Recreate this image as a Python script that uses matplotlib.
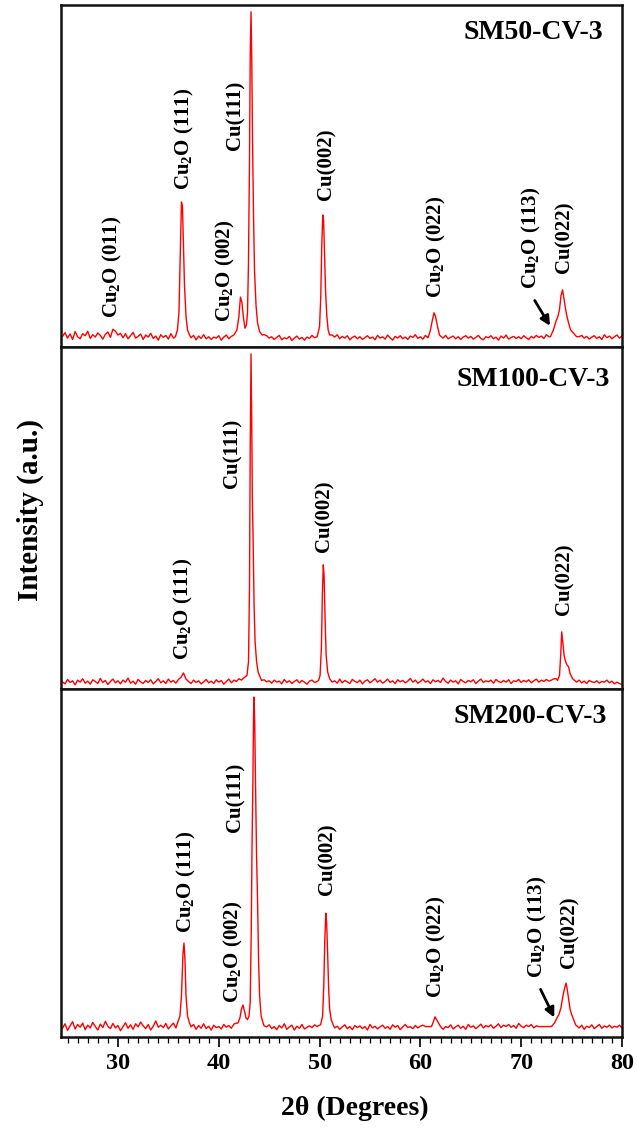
import numpy as np
import matplotlib
matplotlib.use('Agg')
import matplotlib.pyplot as plt
from matplotlib.ticker import MultipleLocator

plt.rcParams['font.family'] = ['Liberation Serif', 'DejaVu Serif']
plt.rcParams['font.weight'] = 'bold'
plt.rcParams['mathtext.default'] = 'regular'

# ------------------------------------------------------------
# Data (intensity in % of panel height)
# ------------------------------------------------------------
SCAN_START = 24.5   # first baseline reading (deg)
SCAN_STEP = 0.25    # spacing of baseline readings (deg)

SAMPLES = ['SM50-CV-3', 'SM100-CV-3', 'SM200-CV-3']

BASE_SM50 = [
    3.1, 4.2, 2.6, 3.8, 2.2, 4.5, 3.0, 2.4, 3.9, 3.3, 4.6, 2.5, 3.6, 2.9, 4.1, 3.4, 2.3, 3.7, 4.4, 2.8,
    5.2, 4.6, 3.5, 4.0, 2.7, 3.9, 2.4, 3.3, 4.3, 2.6, 3.1, 3.8, 2.2, 3.5, 2.9, 4.0, 2.5, 3.2, 2.0, 3.6,
    2.8, 3.4, 2.3, 3.9, 2.6, 3.1, 3.0, 3.0, 3.0, 3.0, 3.0, 2.7, 3.4, 2.1, 3.2, 2.5, 3.6, 2.4, 3.0, 2.2,
    2.9, 2.6, 3.3, 2.0, 2.9, 3.5, 2.4, 3.1, 2.7, 3.8, 3.2, 4.0, 3.5, 4.2, 5.0, 6.0, 5.0, 6.0, 5.0, 4.0,
    3.6, 3.3, 2.6, 3.0, 2.2, 2.8, 3.4, 2.1, 2.7, 2.4, 3.1, 1.9, 2.6, 3.2, 2.3, 2.8, 2.0, 2.9, 2.5, 3.4,
    2.7, 3.0, 3.6, 4.0, 4.5, 5.0, 4.0, 3.5, 2.9, 3.6, 2.4, 3.1, 2.6, 3.3, 2.1, 2.8, 3.2, 2.4, 3.0, 2.2,
    2.7, 3.3, 2.5, 2.9, 2.1, 3.4, 2.6, 3.0, 2.3, 3.5, 2.7, 2.0, 3.1, 2.6, 3.3, 2.4, 2.9, 2.2, 3.2, 2.8,
    3.6, 2.5, 3.0, 2.3, 3.4, 2.7, 3.1, 3.6, 4.0, 5.0, 3.2, 2.6, 3.4, 2.4, 2.8, 3.2, 2.4, 3.0, 2.2, 2.9,
    3.3, 2.6, 3.1, 2.3, 2.8, 3.4, 2.5, 2.1, 3.0, 2.7, 3.3, 2.4, 2.9, 2.0, 3.2, 2.6, 3.5, 2.3, 2.8, 3.1,
    2.5, 3.0, 2.4, 3.3, 2.7, 2.2, 3.1, 2.6, 3.4, 2.8, 3.2, 2.5, 3.6, 3.0, 3.5, 4.0, 5.0, 6.0, 8.0, 10.0,
    9.0, 7.0, 5.0, 4.0, 3.5, 3.0, 3.4, 2.6, 3.1, 2.3, 2.9, 3.3, 2.5, 3.0, 2.2, 3.6, 2.7, 3.2, 2.4, 3.0,
    3.5, 2.6, 3.2,
]

BASE_SM100 = [
    2.1, 1.5, 2.8, 1.9, 2.4, 1.2, 2.6, 2.0, 3.0, 1.7, 2.3, 1.4, 2.7, 2.2, 1.6, 3.1, 1.9, 2.5, 1.3, 2.2,
    2.9, 1.8, 2.4, 1.5, 2.6, 2.0, 3.2, 1.7, 2.3, 1.4, 2.8, 2.1, 1.6, 2.5, 1.9, 2.7, 1.5, 2.2, 3.0, 1.8,
    2.4, 1.6, 2.9, 2.0, 2.5, 1.7, 2.8, 3.4, 4.7, 2.9, 2.2, 1.6, 2.6, 1.9, 2.4, 1.5, 2.1, 2.8, 1.8, 2.3,
    1.6, 2.7, 2.0, 2.5, 1.4, 2.2, 2.9, 1.8, 2.6, 2.2, 3.0, 2.6, 3.3, 3.1, 3.6, 3.3, 3.8, 3.0, 3.2, 2.5,
    2.7, 2.1, 2.4, 1.7, 2.6, 2.0, 2.3, 1.5, 2.8, 1.9, 2.4, 1.6, 2.2, 2.7, 1.8, 2.5, 2.0, 1.4, 2.3, 2.6,
    1.9, 2.2, 2.8, 3.0, 3.3, 3.0, 2.6, 2.0, 2.4, 1.7, 2.9, 1.8, 2.5, 2.1, 1.6, 2.8, 2.2, 1.9, 2.6, 1.5,
    2.3, 2.7, 1.8, 2.4, 3.0, 2.0, 2.6, 1.7, 2.2, 2.9, 1.9, 2.4, 1.6, 2.7, 2.1, 2.5, 1.8, 2.3, 3.1, 2.0,
    2.6, 1.7, 2.2, 2.9, 2.0, 2.4, 1.6, 2.7, 2.1, 2.5, 1.9, 3.2, 2.2, 1.7, 2.6, 2.0, 2.4, 1.5, 2.8, 2.2,
    1.8, 2.5, 2.1, 2.7, 1.6, 2.3, 2.9, 1.9, 2.4, 2.1, 2.6, 1.7, 2.8, 2.2, 1.9, 2.5, 2.0, 2.7, 1.6, 2.4,
    2.2, 2.8, 1.9, 2.5, 2.1, 2.7, 1.8, 2.4, 2.9, 2.0, 2.6, 2.2, 2.8, 2.3, 2.6, 3.0, 3.0, 3.0, 3.0, 3.0,
    3.0, 3.0, 3.0, 2.4, 2.0, 2.6, 1.8, 2.3, 1.6, 2.5, 2.1, 1.9, 2.4, 1.7, 2.2, 2.0, 2.6, 1.8, 2.3, 1.5,
    2.0, 1.6, 1.3,
]

BASE_SM200 = [
    2.5, 3.8, 1.9, 3.2, 4.4, 2.3, 3.6, 2.8, 4.0, 2.1, 3.4, 2.6, 4.2, 3.0, 2.0, 3.7, 2.7, 4.5, 3.1, 2.4,
    3.9, 2.6, 3.3, 1.8, 3.0, 4.1, 2.5, 3.5, 2.2, 3.8, 2.9, 4.3, 3.2, 2.4, 3.6, 2.0, 3.1, 4.6, 2.8, 3.4,
    2.7, 3.9, 2.3, 3.2, 4.0, 2.6, 3.0, 3.0, 3.0, 3.0, 3.0, 2.9, 3.6, 2.2, 3.3, 2.5, 3.8, 2.4, 3.1, 2.0,
    3.4, 2.7, 3.0, 2.3, 3.6, 2.8, 3.3, 2.5, 3.7, 4.0, 3.0, 3.0, 3.0, 3.0, 3.0, 3.0, 3.0, 3.0, 3.0, 3.0,
    3.2, 2.9, 3.5, 2.4, 3.0, 2.1, 3.3, 2.6, 3.8, 2.2, 2.9, 3.4, 2.0, 3.1, 2.5, 3.6, 2.3, 2.8, 3.2, 2.7,
    3.5, 3.0, 3.4, 3.0, 3.0, 3.0, 3.0, 3.0, 2.6, 3.1, 2.2, 2.9, 3.5, 2.4, 3.0, 2.1, 3.3, 2.7, 3.2, 2.4,
    3.0, 2.0, 3.6, 2.6, 3.1, 2.3, 2.9, 3.4, 2.5, 3.0, 2.2, 3.5, 2.8, 3.3, 2.1, 2.9, 3.6, 2.7, 3.0, 2.4,
    3.3, 2.6, 3.1, 3.4, 3.0, 3.0, 3.0, 3.0, 3.0, 2.5, 3.2, 2.2, 3.0, 2.7, 3.5, 2.3, 2.9, 3.4, 2.5, 3.1,
    2.2, 3.6, 2.8, 3.2, 2.4, 3.0, 3.7, 2.6, 3.3, 2.9, 3.5, 2.5, 3.1, 3.8, 2.7, 3.4, 3.0, 3.6, 2.8, 3.3,
    2.5, 3.9, 3.1, 2.7, 3.4, 3.0, 3.6, 2.6, 3.2, 3.0, 3.0, 3.0, 3.0, 3.0, 3.0, 3.0, 3.0, 3.0, 3.0, 3.0,
    3.0, 3.0, 3.0, 3.0, 3.0, 2.6, 3.4, 2.2, 3.1, 2.7, 3.5, 2.4, 3.0, 3.6, 2.5, 3.2, 2.8, 3.4, 2.6, 3.1,
    2.8, 3.4, 2.6,
]

# reflections: (2theta points, intensity points)
PEAKS_SM50 = [
    ([35.7, 35.9, 36.05, 36.2, 36.3, 36.4, 36.5, 36.6, 36.75, 36.9, 37.1],
     [3.0, 5.0, 10, 30, 42.4, 41, 30, 18, 9, 5, 3.5]),
    ([41.5, 41.8, 42.0, 42.15, 42.3, 42.45, 42.6, 42.75, 42.85, 42.95, 43.05,
      43.12, 43.2, 43.27, 43.35, 43.45, 43.55, 43.7, 43.85, 44.05, 44.3],
     [3.5, 5, 9, 14.6, 13, 8.5, 5.5, 6.5, 10, 25, 55, 85, 98, 85, 60, 38, 22, 12, 7, 4.5, 3.5]),
    ([49.8, 50.0, 50.12, 50.22, 50.32, 50.4, 50.5, 50.6, 50.72, 50.85, 51.0],
     [3.5, 6, 15, 30, 38.6, 37, 27, 16, 9, 5, 3.5]),
    ([60.8, 61.0, 61.2, 61.35, 61.5, 61.7, 61.9],
     [3.0, 5, 8, 10, 9, 6, 3.5]),
    ([72.9, 73.2, 73.45, 73.65, 73.8, 73.95, 74.1, 74.2, 74.35, 74.5, 74.7, 74.9, 75.2, 75.5],
     [3, 5, 7.5, 9, 11, 15, 16.7, 15, 12, 9.5, 7, 5, 4, 3]),
]

PEAKS_SM100 = [
    ([42.6, 42.8, 42.95, 43.05, 43.12, 43.2, 43.28, 43.33, 43.4, 43.5, 43.6, 43.75, 43.9, 44.1],
     [3.5, 4, 8, 30, 70, 98, 75, 56, 45, 25, 14, 8, 5, 3.5]),
    ([49.9, 50.05, 50.18, 50.28, 50.37, 50.45, 50.55, 50.65, 50.8, 51.0],
     [2.5, 4, 12, 28, 36.3, 33, 20, 10, 5, 3]),
    ([73.6, 73.8, 73.92, 74.02, 74.12, 74.25, 74.4, 74.55, 74.7, 74.85, 75.1, 75.3],
     [2.5, 4, 10, 16.7, 14, 10, 8, 7, 6.5, 4.5, 3, 2.5]),
]

PEAKS_SM200 = [
    ([35.9, 36.15, 36.3, 36.45, 36.55, 36.65, 36.75, 36.9, 37.1],
     [4, 6, 12, 24, 27, 22, 12, 6, 4]),
    ([41.9, 42.1, 42.25, 42.4, 42.55, 42.7, 42.85, 43.0, 43.12, 43.22, 43.3,
      43.38, 43.45, 43.5, 43.57, 43.65, 43.75, 43.85, 43.95, 44.05, 44.2, 44.4],
     [4, 5.5, 8, 9.2, 7.5, 5.5, 5, 6, 10, 30, 55, 72, 92, 97.7, 90, 72, 52, 39, 22, 12, 6, 4]),
    ([50.1, 50.3, 50.42, 50.52, 50.62, 50.7, 50.8, 50.9, 51.0, 51.15, 51.35],
     [3.5, 6, 15, 28, 35.6, 33, 24, 14, 8, 5, 3.5]),
    ([61.1, 61.3, 61.45, 61.6, 61.8, 62.0],
     [3, 4.5, 5.8, 5, 4, 3]),
    ([73.0, 73.3, 73.55, 73.75, 73.95, 74.15, 74.3, 74.45, 74.55, 74.7, 74.85, 75.0, 75.2, 75.4, 75.6],
     [3, 4, 5.5, 6.5, 8.5, 12, 14, 15.5, 14, 11, 8, 6.5, 5, 3.5, 3]),
]

CU2O = 'Cu$_2$O'
# peak labels: (text, 2theta of label, bottom of label)
LABELS_SM50 = [
    (CU2O + ' (011)', 29.5, 8.5),
    (CU2O + ' (111)', 36.6, 46),
    (CU2O + ' (002)', 40.7, 7.3),
    ('Cu(111)', 41.7, 57.6),
    ('Cu(002)', 50.7, 43),
    (CU2O + ' (022)', 61.6, 14.3),
    (CU2O + ' (113)', 71.0, 17),
    ('Cu(022)', 74.3, 21.6),
]
LABELS_SM100 = [
    (CU2O + ' (111)', 36.5, 8.5),
    ('Cu(111)', 41.4, 58.8),
    ('Cu(002)', 50.5, 40),
    ('Cu(022)', 74.3, 21.6),
]
LABELS_SM200 = [
    (CU2O + ' (111)', 36.8, 30),
    (CU2O + ' (002)', 41.5, 9.8),
    ('Cu(111)', 41.7, 59),
    ('Cu(002)', 50.8, 40.8),
    (CU2O + ' (022)', 61.6, 11.2),
    (CU2O + ' (113)', 71.6, 17),
    ('Cu(022)', 74.8, 19.8),
]
# arrows pointing at the Cu2O (113) shoulder: (from, to)
ARROWS = [((71.2, 14.3), (73.0, 5.5)), None, ((71.8, 14.4), (73.4, 4.9))]
NAME_POS = [(78.1, 92), (78.8, 90.4), (78.5, 92)]


def build_trace(base, peaks):
    """Baseline readings outside the peak windows + the peak points, sorted by 2theta."""
    x = SCAN_START + SCAN_STEP * np.arange(len(base))
    y = np.asarray(base, dtype=float)
    keep = np.ones(len(x), dtype=bool)
    for px, _ in peaks:
        keep &= ~((x >= px[0]) & (x <= px[-1]))
    xs = np.concatenate([x[keep]] + [np.asarray(px, float) for px, _ in peaks])
    ys = np.concatenate([y[keep]] + [np.asarray(py, float) for _, py in peaks])
    order = np.argsort(xs)
    return xs[order], ys[order]


W, H = 637, 1131
fig = plt.figure(figsize=(W / 100, H / 100), dpi=100)

# panel edges in pixels (top, bottom)
panel_px = [(5, 347), (347, 689), (689, 1037)]
left_px, right_px = 61, 622

bases = [BASE_SM50, BASE_SM100, BASE_SM200]
peaks_all = [PEAKS_SM50, PEAKS_SM100, PEAKS_SM200]
labels_all = [LABELS_SM50, LABELS_SM100, LABELS_SM200]

for i, (top, bot) in enumerate(panel_px):
    ax = fig.add_axes([left_px / W, 1 - bot / H, (right_px - left_px) / W, (bot - top) / H])
    x, y = build_trace(bases[i], peaks_all[i])
    ax.plot(x, y, color='#ff0000', linewidth=1.0)
    ax.set_xlim(24.35, 80.0)
    ax.set_ylim(0, 100)
    ax.set_yticks([])
    for sp in ax.spines.values():
        sp.set_linewidth(1.8)
        sp.set_color('#111111')

    for txt, lx, ly in labels_all[i]:
        ax.text(lx, ly, txt, rotation=90, ha='center', va='bottom', fontsize=15)

    nx, ny = NAME_POS[i]
    ax.text(nx, ny, SAMPLES[i], ha='right', va='center', fontsize=20)

    if ARROWS[i] is not None:
        (x0, y0), (x1, y1) = ARROWS[i]
        ax.annotate('', xy=(x1, y1), xytext=(x0, y0),
                    arrowprops=dict(arrowstyle='-|>', color='black', lw=2, mutation_scale=14))

    if i < 2:
        ax.set_xticks([])
    else:
        ax.xaxis.set_major_locator(MultipleLocator(10))
        ax.xaxis.set_minor_locator(MultipleLocator(1))
        ax.tick_params(axis='x', which='major', direction='out', length=7.5, width=1.2,
                       labelsize=17.5, pad=4)
        ax.tick_params(axis='x', which='minor', direction='out', length=4, width=0.9)

fig.text(355 / W, 1 - 1108 / H, '2θ (Degrees)', ha='center', va='center', fontsize=20)
fig.text(30 / W, 1 - 510 / H, 'Intensity (a.u.)', rotation=90, ha='center', va='center',
         fontsize=21)

fig.savefig('out.png', dpi=100)
plt.close(fig)
